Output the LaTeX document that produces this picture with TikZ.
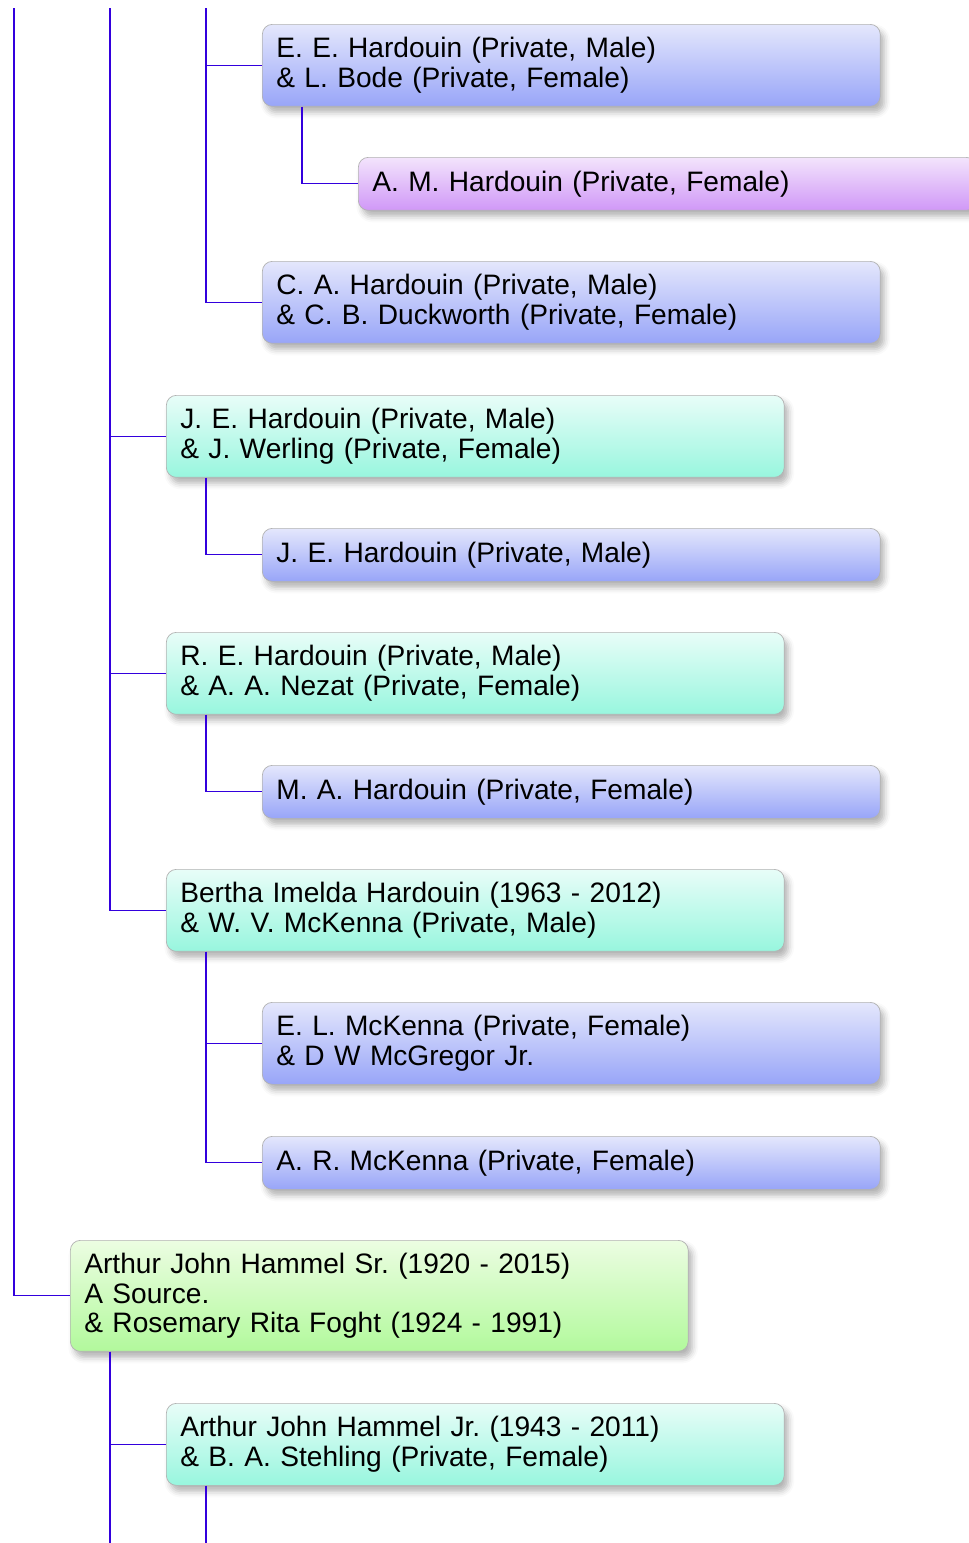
\documentclass[tikz,border=0pt]{standalone}
\usepackage{fontspec}
\setmainfont{Liberation Sans}
\usetikzlibrary{positioning, calc, shadows.blur}
\frenchspacing

\definecolor{linkblue}{RGB}{51,0,221}
\definecolor{boxgray}{RGB}{178,178,178}
\definecolor{bluetop}{RGB}{228,231,252}
\definecolor{bluebot}{RGB}{152,165,248}
\definecolor{purpletop}{RGB}{243,228,252}
\definecolor{purplebot}{RGB}{208,152,247}
\definecolor{cyantop}{RGB}{232,253,248}
\definecolor{cyanbot}{RGB}{152,246,222}
\definecolor{greentop}{RGB}{236,253,226}
\definecolor{greenbot}{RGB}{178,249,156}

\tikzset{
	person/.style={draw=boxgray, rounded corners=0.2cm, anchor=north west, align=left,
		text width=11.8cm, inner xsep=0.28cm, inner ysep=0pt,
		font=\fontsize{16pt}{16.8pt}\selectfont\frenchspacing,
		blur shadow={shadow xshift=0.08cm, shadow yshift=-0.12cm, shadow opacity=30, shadow blur radius=0.12cm}},
	oneline/.style={minimum height=1.06cm},
	twoline/.style={minimum height=1.64cm},
	threeline/.style={minimum height=2.22cm},
	bluebox/.style={top color=bluetop, bottom color=bluebot},
	purplebox/.style={top color=purpletop, bottom color=purplebot},
	cyanbox/.style={top color=cyantop, bottom color=cyanbot},
	greenbox/.style={top color=greentop, bottom color=greenbot},
	link/.style={draw=linkblue, line width=0.6pt}
}

\begin{document}
\begin{tikzpicture}[x=0.02cm, y=-0.02cm]
	\useasboundingbox (0,0) rectangle (968,1543);
	% trunk ends
	\coordinate (t0) at (14,8);
	\coordinate (t1) at (110,8);
	\coordinate (t2) at (206,8);
	\coordinate (b1) at (110,1543);
	\coordinate (b2) at (206,1543);
	% people
	\node[person, twoline, bluebox] (eeh) at (262,24) {E. E. Hardouin (Private, Male)\\\& L. Bode (Private, Female)};
	\node[person, oneline, purplebox] (amh) at (358,157) {A. M. Hardouin (Private, Female)};
	\node[person, twoline, bluebox] (cah) at (262,261) {C. A. Hardouin (Private, Male)\\\& C. B. Duckworth (Private, Female)};
	\node[person, twoline, cyanbox] (jeh) at (166,395) {J. E. Hardouin (Private, Male)\\\& J. Werling (Private, Female)};
	\node[person, oneline, bluebox] (jej) at (262,528) {J. E. Hardouin (Private, Male)};
	\node[person, twoline, cyanbox] (reh) at (166,632) {R. E. Hardouin (Private, Male)\\\& A. A. Nezat (Private, Female)};
	\node[person, oneline, bluebox] (mah) at (262,765) {M. A. Hardouin (Private, Female)};
	\node[person, twoline, cyanbox] (bih) at (166,869) {Bertha Imelda Hardouin (1963 - 2012)\\\& W. V. McKenna (Private, Male)};
	\node[person, twoline, bluebox] (elm) at (262,1002) {E. L. McKenna (Private, Female)\\\& D W McGregor Jr.};
	\node[person, oneline, bluebox] (arm) at (262,1136) {A. R. McKenna (Private, Female)};
	\node[person, threeline, greenbox] (ajs) at (70,1240) {Arthur John Hammel Sr. (1920 - 2015)\\A Source.\\\& Rosemary Rita Foght (1924 - 1991)};
	\node[person, twoline, cyanbox] (ajj) at (166,1403) {Arthur John Hammel Jr. (1943 - 2011)\\\& B. A. Stehling (Private, Female)};
	% links
	\draw[link] (t0) |- (ajs.west);
	\draw[link] (t1) |- (jeh.west);
	\draw[link] (t1) |- (reh.west);
	\draw[link] (t1) |- (bih.west);
	\draw[link] (t2) |- (eeh.west);
	\draw[link] (t2) |- (cah.west);
	\draw[link] ($(eeh.south west)+(40,0)$) |- (amh.west);
	\draw[link] ($(jeh.south west)+(40,0)$) |- (jej.west);
	\draw[link] ($(reh.south west)+(40,0)$) |- (mah.west);
	\draw[link] ($(bih.south west)+(40,0)$) |- (elm.west);
	\draw[link] ($(bih.south west)+(40,0)$) |- (arm.west);
	\draw[link] ($(ajs.south west)+(40,0)$) |- (ajj.west);
	\draw[link] ($(ajs.south west)+(40,0)$) -- (b1);
	\draw[link] ($(ajj.south west)+(40,0)$) -- (b2);
\end{tikzpicture}
\end{document}
